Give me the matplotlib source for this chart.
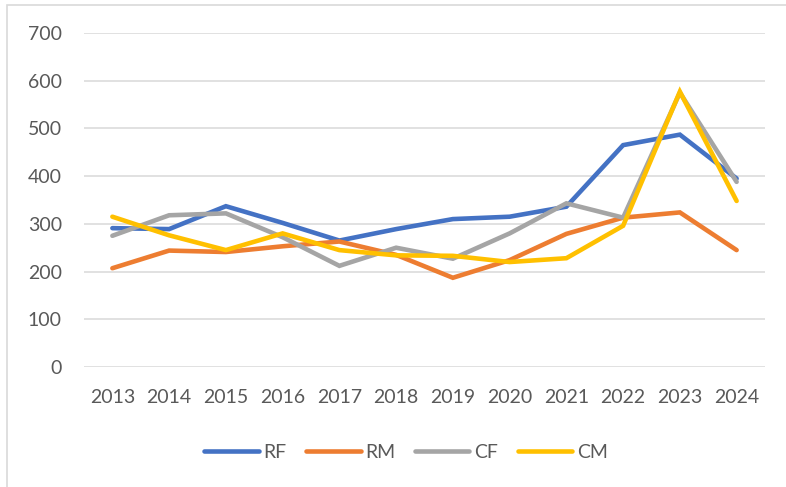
import matplotlib.pyplot as plt
from matplotlib.patches import Rectangle

years = ['2013', '2014', '2015', '2016', '2017', '2018',
         '2019', '2020', '2021', '2022', '2023', '2024']

rf = [291, 289, 337, 302, 265, 289, 310, 315, 336, 465, 487, 395]
rm = [207, 244, 241, 253, 263, 235, 187, 224, 279, 313, 324, 245]
cf = [275, 318, 322, 272, 212, 250, 227, 280, 343, 313, 575, 388]
cm = [315, 276, 245, 280, 245, 234, 233, 220, 228, 296, 577, 348]

series = [('RF', rf, '#4472C4'), ('RM', rm, '#ED7D31'),
          ('CF', cf, '#A5A5A5'), ('CM', cm, '#FFC000')]

plt.rcParams['font.family'] = ['Lato', 'DejaVu Sans']

fig = plt.figure(figsize=(7.86, 4.87), dpi=100)
ax = fig.add_axes([84 / 786, 1 - 367 / 487, 681 / 786, 334 / 487])

x = range(len(years))
for name, vals, color in series:
    ax.plot(x, vals, color=color, linewidth=3.3, label=name,
            solid_joinstyle='miter', solid_capstyle='round')

ax.set_xlim(-0.5, len(years) - 0.5)
ax.set_ylim(0, 700)
ax.set_yticks(range(0, 701, 100))
ax.set_xticks(list(x))
ax.set_xticklabels(years)
ax.grid(axis='y', color='#D9D9D9', linewidth=1.1)
ax.set_axisbelow(True)
for s in ax.spines.values():
    s.set_visible(False)
ax.tick_params(length=0, labelsize=14, labelcolor='#595959')
ax.tick_params(axis='y', pad=16)
ax.tick_params(axis='x', pad=16)

fig.legend(loc='center', bbox_to_anchor=(406 / 786, 1 - 452 / 487), ncol=4,
           frameon=False, fontsize=14, handlelength=2.8, handletextpad=0.25,
           columnspacing=1.0, labelcolor='#595959')

# thin chart frame
fig.patches.append(Rectangle((7 / 786, -0.1), 1.2, 1 - 5 / 487 + 0.1,
                             transform=fig.transFigure, fill=False,
                             edgecolor='#D9D9D9', linewidth=1.2))

fig.savefig('out.png', dpi=100)
